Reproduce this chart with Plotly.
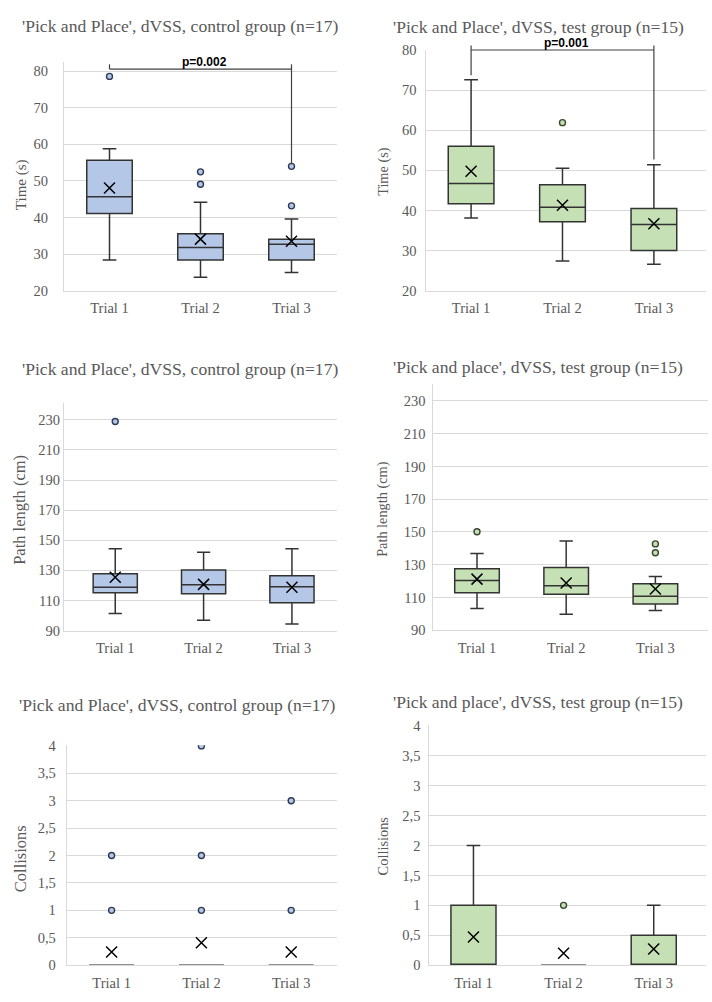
import plotly.graph_objects as go

W, H = 712, 1002
trials = ["Trial 1", "Trial 2", "Trial 3"]

# ---------------- data ----------------
# Time, control group
time_ctrl_q1 = [41.1, 28.4, 28.4]
time_ctrl_median = [45.7, 31.8, 32.7]
time_ctrl_q3 = [55.7, 35.6, 34.1]
time_ctrl_lower = [28.4, 23.7, 25.0]
time_ctrl_upper = [58.8, 44.2, 39.6]
time_ctrl_mean = [48.1, 34.1, 33.5]
time_ctrl_outliers = [[78.6], [52.5, 49.1], [54.0, 43.2]]

# Time, test group
time_test_q1 = [41.7, 37.2, 30.0]
time_test_median = [46.7, 40.8, 36.5]
time_test_q3 = [56.0, 46.4, 40.5]
time_test_lower = [38.1, 27.4, 26.6]
time_test_upper = [72.6, 50.5, 51.4]
time_test_mean = [49.8, 41.3, 36.7]
time_test_outliers = [[], [61.9], []]

# Path length, control group
path_ctrl_q1 = [115.1, 114.4, 108.5]
path_ctrl_median = [118.8, 120.5, 119.2]
path_ctrl_q3 = [127.7, 130.3, 126.4]
path_ctrl_lower = [101.3, 96.8, 94.4]
path_ctrl_upper = [144.3, 142.1, 144.3]
path_ctrl_mean = [125.5, 120.7, 118.8]
path_ctrl_outliers = [[228.9], [], []]

# Path length, test group
path_test_q1 = [112.8, 112.0, 106.0]
path_test_median = [120.4, 117.2, 110.8]
path_test_q3 = [127.5, 128.3, 118.4]
path_test_lower = [103.2, 99.8, 102.0]
path_test_upper = [136.9, 144.5, 122.8]
path_test_mean = [121.2, 118.8, 115.2]
path_test_outliers = [[150.1], [], [142.7, 137.3]]

# Collisions, control group
coll_ctrl_q1 = [0, 0, 0]
coll_ctrl_median = [0, 0, 0]
coll_ctrl_q3 = [0, 0, 0]
coll_ctrl_lower = [0, 0, 0]
coll_ctrl_upper = [0, 0, 0]
coll_ctrl_mean = [0.24, 0.41, 0.24]
coll_ctrl_outliers = [[1, 2], [1, 2, 4], [1, 3]]

# Collisions, test group
coll_test_q1 = [0, 0, 0]
coll_test_median = [0, 0, 0]
coll_test_q3 = [1, 0, 0.5]
coll_test_lower = [0, 0, 0]
coll_test_upper = [2, 0, 1]
coll_test_mean = [0.47, 0.2, 0.27]
coll_test_outliers = [[], [1], []]

time_ticks = [20, 30, 40, 50, 60, 70, 80]
path_ticks = [90, 110, 130, 150, 170, 190, 210, 230]
coll_ticks = [0, 0.5, 1, 1.5, 2, 2.5, 3, 3.5, 4]
coll_ticklabels = ["0", "0,5", "1", "1,5", "2", "2,5", "3", "3,5", "4"]

titles = [
    "'Pick and Place', dVSS, control group (n=17)",
    "'Pick and Place', dVSS, test group (n=15)",
    "'Pick and Place', dVSS, control group (n=17)",
    "'Pick and place', dVSS, test group (n=15)",
    "'Pick and Place', dVSS, control group (n=17)",
    "'Pick and place', dVSS, test group (n=15)",
]
ytitles = ["Time (s)", "Time (s)", "Path length (cm)", "Path length (cm)", "Collisions", "Collisions"]

BLUE = "#B4C7E7"
GREEN = "#C5E0B4"
BLUE_EDGE = "#2E3A55"
GREEN_EDGE = "#38472E"
BOX_LINE = "#333333"
ZERO_LINE = "#8f8f8f"
TXT = "#595959"
GRID = "#d9d9d9"
SERIF = "Liberation Serif, Times New Roman, serif"

panels = [
    dict(data=(time_ctrl_q1, time_ctrl_median, time_ctrl_q3, time_ctrl_lower, time_ctrl_upper, time_ctrl_mean, time_ctrl_outliers),
         fill=BLUE, edge=BLUE_EDGE, xpx=(64, 337), xr=(-0.5, 2.5), ypx=(55, 287.3), yr=(20, 82.5),
         ticks=time_ticks, ticktext=None, standoff=12, title_pos=(180, 18), yt_pos=(21, 180), yt_size=15),
    dict(data=(time_test_q1, time_test_median, time_test_q3, time_test_lower, time_test_upper, time_test_mean, time_test_outliers),
         fill=GREEN, edge=GREEN_EDGE, xpx=(426.3, 706), xr=(-0.49, 2.57), ypx=(42.7, 287.3), yr=(20, 80),
         ticks=time_ticks, ticktext=None, standoff=6, title_pos=(538, 19), yt_pos=(383.5, 166), yt_size=14.3),
    dict(data=(path_ctrl_q1, path_ctrl_median, path_ctrl_q3, path_ctrl_lower, path_ctrl_upper, path_ctrl_mean, path_ctrl_outliers),
         fill=BLUE, edge=BLUE_EDGE, xpx=(64, 337), xr=(-0.58, 2.51), ypx=(401.7, 632.7), yr=(90, 241),
         ticks=path_ticks, ticktext=None, standoff=0, title_pos=(180, 367), yt_pos=(20, 510), yt_size=16.5),
    dict(data=(path_test_q1, path_test_median, path_test_q3, path_test_lower, path_test_upper, path_test_mean, path_test_outliers),
         fill=GREEN, edge=GREEN_EDGE, xpx=(433.3, 708), xr=(-0.49, 2.59), ypx=(381.7, 632.3), yr=(90, 240.6),
         ticks=path_ticks, ticktext=None, standoff=4, title_pos=(538, 365), yt_pos=(383, 509), yt_size=14.3),
    dict(data=(coll_ctrl_q1, coll_ctrl_median, coll_ctrl_q3, coll_ctrl_lower, coll_ctrl_upper, coll_ctrl_mean, coll_ctrl_outliers),
         fill=BLUE, edge=BLUE_EDGE, xpx=(66.7, 337), xr=(-0.5, 2.51), ypx=(749.3, 972.7), yr=(0, 4.01),
         ticks=coll_ticks, ticktext=coll_ticklabels, standoff=7, title_pos=(177, 708), yt_pos=(20, 865), yt_size=16.5),
    dict(data=(coll_test_q1, coll_test_median, coll_test_q3, coll_test_lower, coll_test_upper, coll_test_mean, coll_test_outliers),
         fill=GREEN, edge=GREEN_EDGE, xpx=(429.3, 706), xr=(-0.49, 2.58), ypx=(729, 972.7), yr=(0, 4.01),
         ticks=coll_ticks, ticktext=coll_ticklabels, standoff=5, title_pos=(538, 705), yt_pos=(383, 851), yt_size=14.4),
]

fig = go.Figure()
annotations = []
shapes = []

for i, p in enumerate(panels):
    n = i + 1
    xa = "x" if n == 1 else f"x{n}"
    ya = "y" if n == 1 else f"y{n}"
    q1, med, q3, lo, hi, mean, outl = p["data"]
    for k, t in enumerate(trials):
        flat = q1[k] == q3[k]
        fig.add_trace(go.Box(
            x=[t], q1=[q1[k]], median=[med[k]], q3=[q3[k]],
            lowerfence=[lo[k]], upperfence=[hi[k]],
            width=0.5, whiskerwidth=0.3, boxpoints=False,
            fillcolor=p["fill"],
            line=dict(color=ZERO_LINE if flat else BOX_LINE, width=2.2 if flat else 1.5),
            xaxis=xa, yaxis=ya, hoverinfo="skip",
        ))
    ox, oy = [], []
    for k, t in enumerate(trials):
        for v in outl[k]:
            ox.append(t)
            oy.append(v)
    fig.add_trace(go.Scatter(
        x=ox, y=oy, mode="markers", xaxis=xa, yaxis=ya,
        marker=dict(symbol="circle", size=6, color=p["fill"], line=dict(color=p["edge"], width=1.4)),
        hoverinfo="skip"))
    fig.add_trace(go.Scatter(
        x=trials, y=mean, mode="markers", xaxis=xa, yaxis=ya,
        marker=dict(symbol="x-thin", size=11, color="black", line=dict(color="black", width=1.5)),
        hoverinfo="skip"))

    xdom = [p["xpx"][0] / W, p["xpx"][1] / W]
    ydom = [1 - p["ypx"][1] / H, 1 - p["ypx"][0] / H]
    xkey = "xaxis" if n == 1 else f"xaxis{n}"
    ykey = "yaxis" if n == 1 else f"yaxis{n}"
    fig.update_layout(**{
        xkey: dict(domain=xdom, anchor=ya, type="category", categoryorder="array", categoryarray=trials,
                   range=list(p["xr"]), showgrid=False, zeroline=False, showline=True,
                   linecolor=GRID, linewidth=1, ticks="", ticklabelstandoff=4,
                   tickfont=dict(family=SERIF, size=14.5, color=TXT), fixedrange=True),
        ykey: dict(domain=ydom, anchor=xa, range=list(p["yr"]), tickvals=p["ticks"],
                   ticktext=p["ticktext"] if p["ticktext"] else [str(v) for v in p["ticks"]],
                   showgrid=True, gridcolor=GRID, gridwidth=1, zeroline=False, showline=True,
                   linecolor=GRID, linewidth=1, ticks="", ticklabelstandoff=p["standoff"],
                   tickfont=dict(family=SERIF, size=14.5, color=TXT), fixedrange=True),
    })
    tx, ty = p["title_pos"]
    annotations.append(dict(text=titles[i], x=tx / W, y=1 - ty / H, xref="paper", yref="paper",
                            xanchor="center", yanchor="middle", showarrow=False,
                            font=dict(family=SERIF, size=17.6, color=TXT)))
    ax_, ay_ = p["yt_pos"]
    annotations.append(dict(text=ytitles[i], x=ax_ / W, y=1 - ay_ / H, xref="paper", yref="paper",
                            xanchor="center", yanchor="middle", showarrow=False, textangle=-90,
                            font=dict(family=SERIF, size=p["yt_size"], color=TXT)))


def to_paper(panel_idx, cat_idx, val):
    p = panels[panel_idx]
    x0, x1 = p["xpx"]
    r0, r1 = p["xr"]
    y0, y1 = p["ypx"]
    s0, s1 = p["yr"]
    px = x0 + (cat_idx - r0) / (r1 - r0) * (x1 - x0)
    py = y1 - (val - s0) / (s1 - s0) * (y1 - y0)
    return px / W, 1 - py / H


# significance brackets (panel index, horizontal level, top, left bottom, right bottom, label)
brackets = [
    (0, 80.6, 81.9, 80.6, 54.6, "p=0.002"),
    (1, 80.0, 81.1, 73.7, 52.7, "p=0.001"),
]
BR = "#404040"
for pi, level, top, lbot, rbot, label in brackets:
    lx, ly = to_paper(pi, 0, level)
    rx, _ = to_paper(pi, 2, level)
    _, ytop = to_paper(pi, 0, top)
    _, ylb = to_paper(pi, 0, lbot)
    _, yrb = to_paper(pi, 2, rbot)
    for (xa0, ya0, xa1, ya1) in [(lx, ly, rx, ly), (lx, ytop, lx, ylb), (rx, ytop, rx, yrb)]:
        shapes.append(dict(type="line", xref="paper", yref="paper", x0=xa0, y0=ya0, x1=xa1, y1=ya1,
                           line=dict(color=BR, width=1.2)))
    annotations.append(dict(text=f"<b>{label}</b>", x=(lx + rx) / 2 + 0.005, y=ly, xref="paper", yref="paper",
                            xanchor="center", yanchor="bottom", yshift=-2, showarrow=False,
                            font=dict(family="Liberation Sans, Arial, sans-serif", size=12, color="black")))

fig.update_layout(
    width=W, height=H, autosize=False,
    margin=dict(l=0, r=0, t=0, b=0),
    paper_bgcolor="white", plot_bgcolor="white",
    showlegend=False, boxmode="overlay",
    annotations=annotations, shapes=shapes,
)

fig.write_html(
    "out.html",
    config={"displayModeBar": False},
    post_script=(
        "document.body.style.margin='0';document.body.style.padding='0';"
        "document.documentElement.style.overflow='hidden';"
    ),
)
